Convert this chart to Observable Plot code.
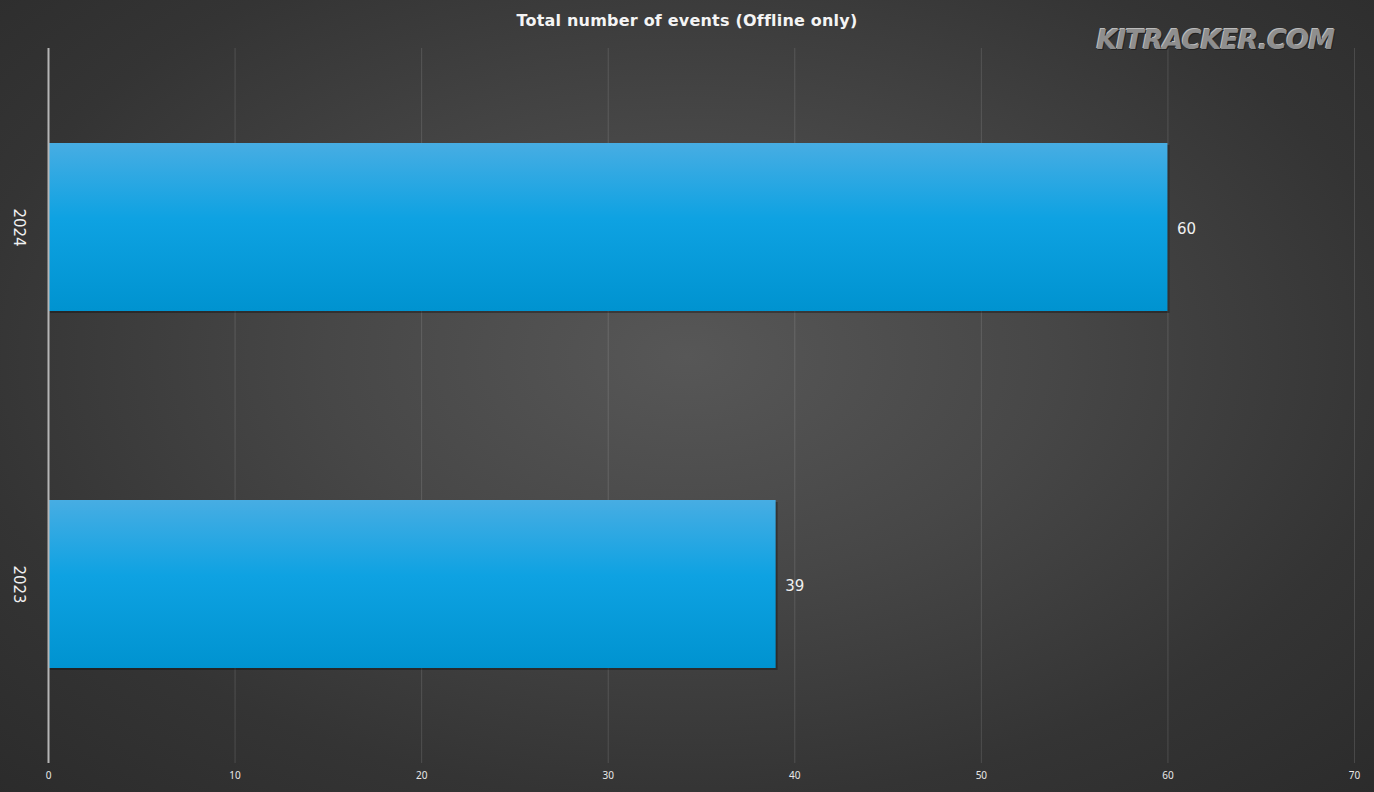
<!DOCTYPE html>
<html>
<head>
<meta charset="utf-8">
<script src="https://cdn.jsdelivr.net/npm/d3@7"></script>
<script src="https://cdn.jsdelivr.net/npm/@observablehq/plot@0.6"></script>
<style>
  html, body { margin: 0; padding: 0; }
  #wrap {
    position: relative; width: 1374px; height: 792px; overflow: hidden;
    background: radial-gradient(ellipse 75% 80% at 50% 45%, #575757 0%, #474747 35%, #343434 70%, #2a2a2a 100%);
    font-family: "DejaVu Sans", sans-serif;
  }
  #title {
    height: 44px; line-height: 42px; text-align: center; color: #f4f4f4;
    font-family: "DejaVu Sans", sans-serif; font-weight: bold; font-size: 16px; letter-spacing: 0.2px;
  }
  #mark {
    position: absolute; right: 40px; top: 24px; font-family: "DejaVu Sans", sans-serif;
    font-weight: bold; font-size: 27px; letter-spacing: -1px; font-style: italic;
    color: #8e8e8e; text-shadow: 1px 1px 0 #222, -1px -1px 0 #bbb;
  }
  svg { display: block; background: transparent; }
</style>
</head>
<body>
<div id="wrap">
  <div id="title">Total number of events (Offline only)</div>
  <div id="mark">KITRACKER.COM</div>
  <div id="chart"></div>
</div>
<script>
const years = ["2024", "2023"];
const counts = [60, 39];
const xTicks = [0, 10, 20, 30, 40, 50, 60, 70];

const data = years.map((y, i) => ({year: y, count: counts[i]}));

const plot = Plot.plot({
  width: 1374,
  height: 748,
  marginTop: 4,
  marginBottom: 29,
  marginLeft: 48,
  marginRight: 20,
  style: {background: "transparent", color: "#eeeeee", overflow: "visible"},
  x: {domain: [0, 70], ticks: xTicks, label: null, tickSize: 0, tickPadding: 10},
  y: {domain: years, paddingInner: 0.53, paddingOuter: 0.265, label: null, axis: null},
  marks: [
    Plot.ruleX(xTicks.filter(d => d > 0), {stroke: "#ffffff", strokeOpacity: 0.13, strokeWidth: 1}),
    Plot.barX(data, {x: "count", y: "year", fill: "#000", fillOpacity: 0.3, dx: 2, dy: 2}),
    Plot.barX(data, {x: "count", y: "year", fill: "url(#barGrad)"}),
    Plot.ruleX([0], {stroke: "#b5b5b5", strokeWidth: 2}),
    Plot.text(data, {x: "count", y: "year", text: d => String(d.count), dx: 9, dy: 2, textAnchor: "start",
      fill: "#f0f0f0", fontSize: 15, fontFamily: "DejaVu Sans, sans-serif"}),
    Plot.axisX({ticks: xTicks, tickSize: 0, tickPadding: 8, fontSize: 10, fill: "#e8e8e8", label: null}),
    Plot.text(data, {y: "year", frameAnchor: "left", dx: -30, text: "year", rotate: 90, textAnchor: "middle",
      fill: "#f0f0f0", fontSize: 15, fontFamily: "DejaVu Sans, sans-serif"})
  ]
});

const svg = d3.select(plot);
const defs = svg.insert("defs", ":first-child");
const g = defs.append("linearGradient").attr("id", "barGrad")
  .attr("x1", 0).attr("y1", 0).attr("x2", 0).attr("y2", 1);
g.append("stop").attr("offset", "0%").attr("stop-color", "#47ade3");
g.append("stop").attr("offset", "45%").attr("stop-color", "#0ea2e2");
g.append("stop").attr("offset", "100%").attr("stop-color", "#0093d0");

document.getElementById("chart").appendChild(plot);
</script>
</body>
</html>
